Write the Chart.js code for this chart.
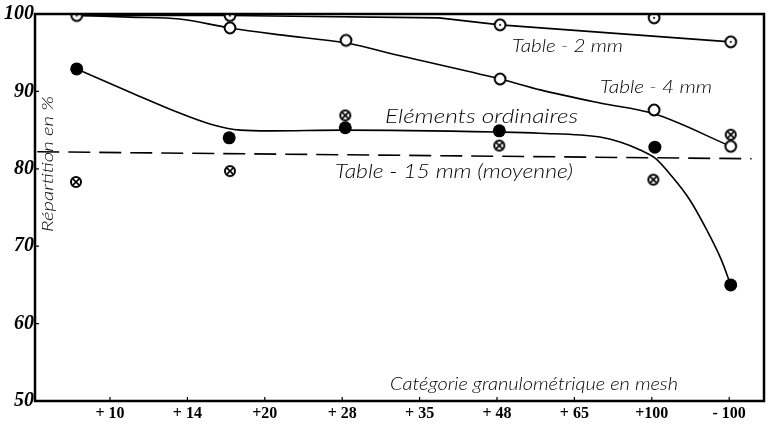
<!DOCTYPE html>
<html>
<head>
<meta charset="utf-8">
<script src="https://cdn.jsdelivr.net/npm/chart.js@4/dist/chart.umd.min.js"></script>
<style>
  html, body { margin: 0; padding: 0; background: #fff; }
  #wrap { width: 771px; height: 426px; }
</style>
</head>
<body>
<div id="wrap"><canvas id="c" width="771" height="426"></canvas></div>
<script>
// ---- data ----
const xLabels = ["+ 10", "+ 14", "+20", "+ 28", "+ 35", "+ 48", "+ 65", "+100", "- 100"];
const xTickPos = [1, 2, 3, 4, 5, 6, 7, 8, 9];
const yTicks = [50, 60, 70, 80, 90, 100];

// measured points (x = position along the mesh axis)
const table2X = [0.57, 2.55, 6.04, 8.03, 9.02];
const table2Y = [99.8, 99.8, 98.6, 99.5, 96.4];
const table4X = [2.55, 4.05, 6.04, 8.03, 9.02];
const table4Y = [98.2, 96.6, 91.6, 87.6, 82.9];
const ordinaryX = [0.57, 2.54, 4.04, 6.03, 8.04, 9.02];
const ordinaryY = [92.9, 84.0, 85.3, 84.9, 82.8, 65.0];
const table15X = [0.56, 2.55, 4.04, 6.03, 8.02, 9.02];
const table15Y = [78.3, 79.7, 86.9, 83.0, 78.6, 84.4];

// hand-drawn curves
const table2CurveX = [0.57, 2.55, 5.25, 6.04, 9.02];
const table2CurveY = [99.8, 99.8, 99.5, 98.6, 96.4];
const table4CurveX = [0.57, 1.26, 1.9, 2.55, 3.2, 4.05, 4.75, 6.04, 6.56, 7.33, 8.03, 9.02];
const table4CurveY = [99.8, 99.6, 99.35, 98.2, 97.3, 96.25, 94.6, 91.6, 90.2, 88.5, 87.1, 82.9];
const ordinaryCurveX = [0.57, 1.26, 1.9, 2.29, 2.68, 3.07, 4.0, 6.0, 6.55, 7.33, 7.59, 7.85, 8.04, 8.27, 8.49, 8.71, 8.9, 9.02];
const ordinaryCurveY = [92.9, 89.9, 87.2, 85.8, 85.0, 84.9, 85.0, 84.75, 84.6, 84.1, 83.46, 82.43, 81.4, 78.9, 76.0, 72.1, 68.2, 65.0];
const table15MeanX = [0.06, 9.29];
const table15MeanY = [82.2, 81.3];

function pts(xs, ys) { return xs.map((x, i) => ({ x: x, y: ys[i] })); }

// ---- marker images ----
function makeMarker(kind) {
  const s = 16, c = document.createElement('canvas');
  c.width = s; c.height = s;
  const g = c.getContext('2d');
  const m = s / 2;
  g.lineWidth = 2; g.strokeStyle = '#000'; g.fillStyle = '#fff';
  if (kind === 'otimes') {
    g.beginPath(); g.arc(m, m, 5.0, 0, Math.PI * 2); g.fill(); g.stroke();
    g.lineWidth = 1.6;
    const d = 3.4;
    g.beginPath(); g.moveTo(m - d, m - d); g.lineTo(m + d, m + d);
    g.moveTo(m + d, m - d); g.lineTo(m - d, m + d); g.stroke();
  } else {
    g.beginPath(); g.arc(m, m, 5.4, 0, Math.PI * 2); g.fill(); g.stroke();
    if (kind === 'openDot') {
      g.fillStyle = '#000';
      g.beginPath(); g.arc(m, m, 1.1, 0, Math.PI * 2); g.fill();
    }
  }
  return c;
}
const mkOpenDot = makeMarker('openDot');
const mkOpen = makeMarker('open');
const mkOtimes = makeMarker('otimes');

const curveBase = { showLine: true, pointRadius: 0, borderColor: '#000', backgroundColor: '#000', fill: false };

function stretchText(ctx, text, x, y, width, size) {
  ctx.save();
  ctx.font = 'italic 300 ' + size + 'px "Lato"';
  const w = ctx.measureText(text).width;
  ctx.translate(x, y);
  ctx.scale(width / w, 1);
  ctx.fillText(text, 0, 0);
  ctx.restore();
}

const framePlugin = {
  id: 'frame',
  afterDatasetsDraw(chart) {
    const ctx = chart.ctx, a = chart.chartArea;
    const xs = chart.scales.x, ys = chart.scales.y;
    ctx.save();
    ctx.strokeStyle = '#000';
    ctx.lineWidth = 2.5;
    ctx.strokeRect(a.left, a.top, a.right - a.left, a.bottom - a.top);
    ctx.lineWidth = 1.2;
    ctx.beginPath();
    xTickPos.forEach(v => { const p = xs.getPixelForValue(v); ctx.moveTo(p, a.bottom); ctx.lineTo(p, a.bottom - 4); });
    yTicks.forEach(v => { const p = ys.getPixelForValue(v); ctx.moveTo(a.left, p); ctx.lineTo(a.left + 4, p); });
    ctx.stroke();

    ctx.fillStyle = '#000';
    ctx.textBaseline = 'alphabetic';
    ctx.textAlign = 'left';
    stretchText(ctx, 'Table - 2 mm', 512, 52, 111, 18);
    stretchText(ctx, 'Table - 4 mm', 600, 93, 112, 18);
    stretchText(ctx, 'Eléments ordinaires', 385, 123, 193, 20);
    stretchText(ctx, 'Table - 15 mm (moyenne)', 335, 178, 238, 19);
    stretchText(ctx, 'Catégorie granulométrique en mesh', 390, 390, 288, 17);
    ctx.save();
    ctx.translate(53, 232);
    ctx.rotate(-Math.PI / 2);
    stretchText(ctx, 'Répartition en %', 0, 0, 136, 16);
    ctx.restore();
    ctx.restore();
  }
};

new Chart(document.getElementById('c'), {
  type: 'scatter',
  data: {
    datasets: [
      { label: 'Table - 2 mm', data: pts(table2X, table2Y), pointStyle: mkOpenDot, pointRadius: 6, showLine: false },
      { label: 'Table - 4 mm', data: pts(table4X, table4Y), pointStyle: mkOpen, pointRadius: 6, showLine: false },
      { label: 'Eléments ordinaires', data: pts(ordinaryX, ordinaryY), pointStyle: 'circle', pointRadius: 6.5, backgroundColor: '#000', borderColor: '#000', borderWidth: 0, showLine: false },
      { label: 'Table - 15 mm', data: pts(table15X, table15Y), pointStyle: mkOtimes, pointRadius: 5, showLine: false },
      Object.assign({ label: 'c2', data: pts(table2CurveX, table2CurveY), borderWidth: 1.6, tension: 0 }, curveBase),
      Object.assign({ label: 'c4', data: pts(table4CurveX, table4CurveY), borderWidth: 1.6, cubicInterpolationMode: 'monotone' }, curveBase),
      Object.assign({ label: 'co', data: pts(ordinaryCurveX, ordinaryCurveY), borderWidth: 1.6, cubicInterpolationMode: 'monotone' }, curveBase),
      Object.assign({ label: 'c15', data: pts(table15MeanX, table15MeanY), borderWidth: 1.6, borderDash: [22, 9], tension: 0 }, curveBase)
    ]
  },
  options: {
    responsive: false,
    animation: false,
    events: [],
    layout: { padding: { top: 14, right: 7, left: 0, bottom: 0 } },
    plugins: { legend: { display: false }, tooltip: { enabled: false } },
    scales: {
      x: {
        type: 'linear', min: 0.031, max: 9.45,
        grid: { display: false, drawTicks: false }, border: { display: false },
        afterBuildTicks: (s) => { s.ticks = xTickPos.map(v => ({ value: v })); },
        afterFit: (s) => { s.height = 25; },
        ticks: {
          autoSkip: false, maxRotation: 0, padding: 3, color: '#000',
          font: { family: '"Liberation Serif"', weight: 'bold', size: 16 },
          callback: (v, i) => xLabels[i]
        }
      },
      y: {
        type: 'linear', min: 50, max: 100,
        grid: { display: false, drawTicks: false }, border: { display: false },
        afterBuildTicks: (s) => { s.ticks = yTicks.map(v => ({ value: v })); },
        afterFit: (s) => { s.width = 35; },
        ticks: {
          padding: 1, color: '#000',
          font: { family: '"Liberation Serif"', weight: 'bold', style: 'italic', size: 20 },
          callback: (v) => String(v)
        }
      }
    }
  },
  plugins: [framePlugin]
});
</script>
</body>
</html>
